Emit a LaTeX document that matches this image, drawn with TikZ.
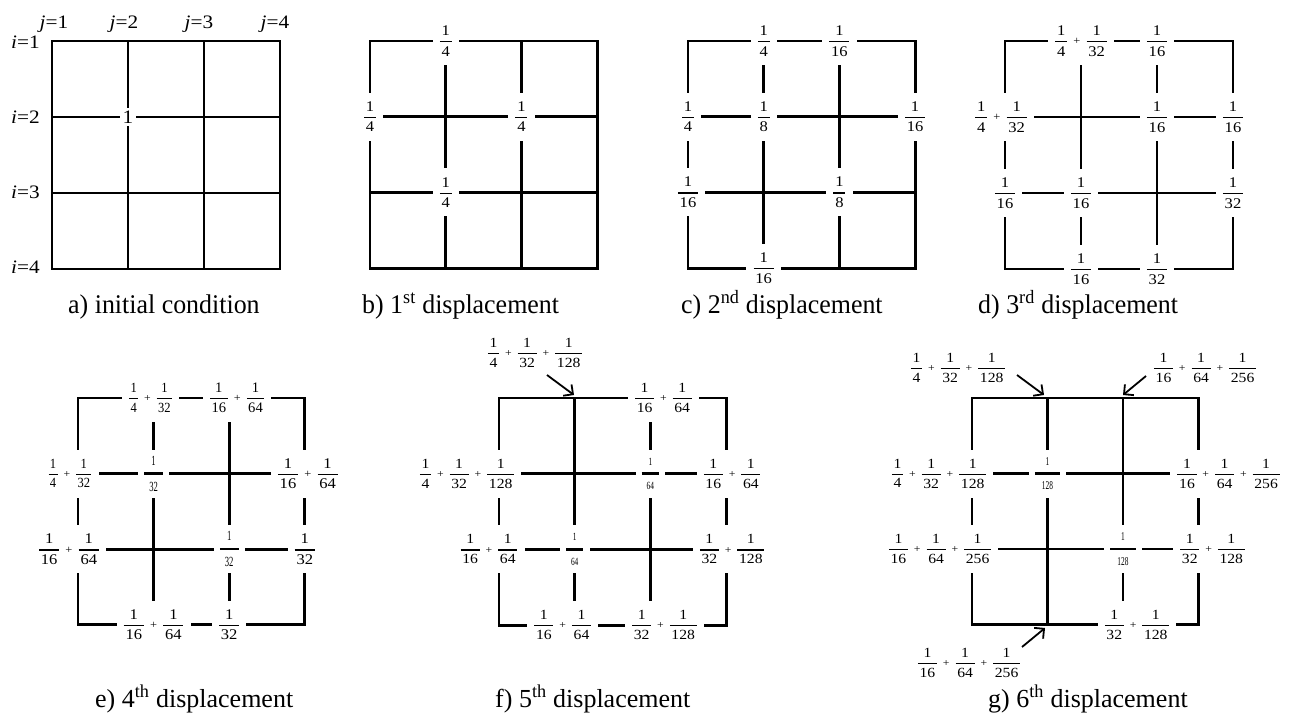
\documentclass[tikz,border=0pt]{standalone}
\usepackage{fontspec}
\setmainfont[FakeStretch=1.12]{Liberation Serif}
\newfontfamily\capfont[FakeStretch=0.96]{Liberation Serif}
\newfontfamily\capfontb{Liberation Serif}
\usepackage{amsmath}
\usepackage{graphicx}
\usetikzlibrary{arrows.meta}

% ordinary fraction
\newcommand\fr[2]{\genfrac{}{}{1.3pt}{0}{\text{#1}}{\text{\kern.12em#2\kern.12em}}}
% condensed fraction
\newcommand\frc[3]{\genfrac{}{}{1.2pt}{0}{\text{\scalebox{#1}[1]{#2}}}{\text{\kern.1em\scalebox{#1}[1]{#3}\kern.1em}}}
% tiny fraction with thick bar
\newcommand\frt[4]{\genfrac{}{}{2.4pt}{0}{\text{\scalebox{#1}[1]{#3}}}{\text{\kern#2\scalebox{#1}[1]{#4}\kern#2}}}
\newcommand\pl{\mathord{\hspace{0.34em}\vcenter{\hbox{\scalebox{0.75}{+}}}\hspace{0.34em}}}

\newcommand\drawgrid[4]{%
  \foreach \rr in {1,2,3,4}{\foreach \cc in {1,2,3,4}{%
    \coordinate (#1-\rr-\cc) at ({#2+(\cc-1)*#4},{#3+(\rr-1)*#4});}}%
  \draw[gridline] (#1-1-1) rectangle (#1-4-4);
  \foreach \kk in {2,3}{\draw[gridline] (#1-\kk-1) -- (#1-\kk-4);
    \draw[gridline] (#1-1-\kk) -- (#1-4-\kk);}%
}

\tikzset{
  gridline/.style={line width=2.8pt},
  lab/.style={fill=white, inner xsep=6pt, inner ysep=0pt, minimum height=48pt,
    font=\fontsize{14.8}{16}\selectfont},
  labs/.style={lab, font=\fontsize{14}{16}\selectfont},
  tinyfr/.style={fill=white, inner xsep=5pt, inner ysep=0pt, minimum height=48pt,
    font=\fontsize{13}{15}\selectfont},
  freelab/.style={inner sep=0pt, font=\fontsize{14}{16}\selectfont},
  onelab/.style={fill=white, inner sep=2.5pt, font=\fontsize{19}{22}\selectfont},
  idx/.style={inner sep=0pt, font=\fontsize{19}{22}\selectfont},
  capt/.style={anchor=base west, inner sep=0pt, font=\capfont\fontsize{27}{30}\selectfont},
  captb/.style={anchor=base west, inner sep=0pt, font=\capfontb\fontsize{26}{30}\selectfont},
  arr/.style={line width=1.8pt, -{Straight Barb[length=7pt,width=14pt,line width=1.8pt]}},
}

\begin{document}
\begin{tikzpicture}[x=1pt,y=-1pt]
\useasboundingbox (0,0) rectangle (1293,713);

% ---------- grids ----------
\drawgrid{a}{52}{41}{76}
\drawgrid{b}{370}{41}{75.7}
\drawgrid{c}{688}{41}{75.7}
\drawgrid{d}{1005}{41}{76}
\drawgrid{e}{78}{398}{75.6}
\drawgrid{f}{499}{398}{75.7}
\drawgrid{g}{972}{398}{75.5}

% ---------- a) ----------
\node[idx, anchor=base] (j1) at (54,28) {\textit{j}=1};
\node[idx, anchor=base] (j2) at (124,28) {\textit{j}=2};
\node[idx, anchor=base] (j3) at (199,28) {\textit{j}=3};
\node[idx, anchor=base] (j4) at (275,28) {\textit{j}=4};
\node[idx, anchor=east] (i1) at (40,42) {\textit{i}=1};
\node[idx, anchor=east] (i2) at (40,117) {\textit{i}=2};
\node[idx, anchor=east] (i3) at (40,192) {\textit{i}=3};
\node[idx, anchor=east] (i4) at (40,267) {\textit{i}=4};
\node[onelab] (a22) at (a-2-2) {1};

% ---------- b) ----------
\node[lab] (b12) at (b-1-2) {$\fr{1}{4}$};
\node[lab] (b21) at (b-2-1) {$\fr{1}{4}$};
\node[lab] (b23) at (b-2-3) {$\fr{1}{4}$};
\node[lab] (b32) at (b-3-2) {$\fr{1}{4}$};

% ---------- c) ----------
\node[lab] (c12) at (c-1-2) {$\fr{1}{4}$};
\node[lab] (c13) at (c-1-3) {$\fr{1}{16}$};
\node[lab] (c21) at (c-2-1) {$\fr{1}{4}$};
\node[lab] (c22) at (c-2-2) {$\fr{1}{8}$};
\node[lab] (c24) at (c-2-4) {$\fr{1}{16}$};
\node[lab] (c31) at (c-3-1) {$\fr{1}{16}$};
\node[lab] (c33) at (c-3-3) {$\fr{1}{8}$};
\node[lab] (c42) at (c-4-2) {$\fr{1}{16}$};

% ---------- d) ----------
\node[lab] (d12) at (d-1-2) {$\fr{1}{4}\pl\fr{1}{32}$};
\node[lab] (d13) at (d-1-3) {$\fr{1}{16}$};
\node[lab] (d21) at ([xshift=-4pt]d-2-1) {$\fr{1}{4}\pl\fr{1}{32}$};
\node[lab] (d23) at (d-2-3) {$\fr{1}{16}$};
\node[lab] (d24) at (d-2-4) {$\fr{1}{16}$};
\node[lab] (d31) at (d-3-1) {$\fr{1}{16}$};
\node[lab] (d32) at (d-3-2) {$\fr{1}{16}$};
\node[lab] (d34) at (d-3-4) {$\fr{1}{32}$};
\node[lab] (d42) at (d-4-2) {$\fr{1}{16}$};
\node[lab] (d43) at (d-4-3) {$\fr{1}{32}$};

% ---------- e) ----------
\node[lab, font=\fontsize{14}{16}\selectfont] (e12) at ([xshift=-3pt]e-1-2) {$\frc{0.8}{1}{4}\pl\frc{0.8}{1}{32}$};
\node[lab, font=\fontsize{14.5}{16}\selectfont] (e13) at ([xshift=8pt]e-1-3) {$\frc{0.9}{1}{16}\pl\frc{0.9}{1}{64}$};
\node[lab, font=\fontsize{14}{16}\selectfont] (e21) at ([xshift=-8pt]e-2-1) {$\frc{0.8}{1}{4}\pl\frc{0.8}{1}{32}$};
\node[tinyfr, font=\fontsize{14}{16}\selectfont] (e22) at (e-2-2) {$\frt{0.55}{5pt}{1}{32}$};
\node[lab] (e24) at ([xshift=3pt]e-2-4) {$\fr{1}{16}\pl\fr{1}{64}$};
\node[lab] (e31) at ([xshift=-9pt]e-3-1) {$\fr{1}{16}\pl\fr{1}{64}$};
\node[tinyfr, font=\fontsize{14}{16}\selectfont] (e33) at (e-3-3) {$\frt{0.55}{5pt}{1}{32}$};
\node[lab] (e34) at (e-3-4) {$\fr{1}{32}$};
\node[lab] (e42) at (e-4-2) {$\fr{1}{16}\pl\fr{1}{64}$};
\node[lab] (e43) at (e-4-3) {$\fr{1}{32}$};

% ---------- f) ----------
\node[freelab] (ftop) at (535,353) {$\fr{1}{4}\pl\fr{1}{32}\pl\fr{1}{128}$};
\node[labs] (f13) at ([xshift=13pt]f-1-3) {$\fr{1}{16}\pl\fr{1}{64}$};
\node[labs] (f21) at ([xshift=-32pt]f-2-1) {$\fr{1}{4}\pl\fr{1}{32}\pl\fr{1}{128}$};
\node[tinyfr, font=\fontsize{11}{13}\selectfont] (f23) at (f-2-3) {$\frt{0.6}{5pt}{1}{64}$};
\node[labs] (f24) at ([xshift=6pt]f-2-4) {$\fr{1}{16}\pl\fr{1}{64}$};
\node[labs] (f31) at ([xshift=-10pt]f-3-1) {$\fr{1}{16}\pl\fr{1}{64}$};
\node[tinyfr, font=\fontsize{11}{13}\selectfont] (f32) at (f-3-2) {$\frt{0.6}{5pt}{1}{64}$};
\node[labs] (f34) at ([xshift=6pt]f-3-4) {$\fr{1}{32}\pl\fr{1}{128}$};
\node[labs] (f42) at ([xshift=-12pt]f-4-2) {$\fr{1}{16}\pl\fr{1}{64}$};
\node[labs] (f43) at ([xshift=14pt]f-4-3) {$\fr{1}{32}\pl\fr{1}{128}$};
\coordinate (fas) at (547,375);
\coordinate (fae) at (574,395);

% ---------- g) ----------
\node[freelab] (gtl) at (958,368) {$\fr{1}{4}\pl\fr{1}{32}\pl\fr{1}{128}$};
\node[freelab] (gtr) at (1205,368) {$\fr{1}{16}\pl\fr{1}{64}\pl\fr{1}{256}$};
\node[freelab] (gbl) at (969,663) {$\fr{1}{16}\pl\fr{1}{64}\pl\fr{1}{256}$};
\node[labs] (g21) at ([xshift=-33pt]g-2-1) {$\fr{1}{4}\pl\fr{1}{32}\pl\fr{1}{128}$};
\node[tinyfr, font=\fontsize{12}{14}\selectfont] (g22) at (g-2-2) {$\frt{0.55}{7pt}{1}{128}$};
\node[labs] (g24) at ([xshift=30pt]g-2-4) {$\fr{1}{16}\pl\fr{1}{64}\pl\fr{1}{256}$};
\node[labs] (g31) at ([xshift=-32pt]g-3-1) {$\fr{1}{16}\pl\fr{1}{64}\pl\fr{1}{256}$};
\node[tinyfr, font=\fontsize{12}{14}\selectfont] (g33) at (g-3-3) {$\frt{0.55}{7pt}{1}{128}$};
\node[labs] (g34) at ([xshift=14pt]g-3-4) {$\fr{1}{32}\pl\fr{1}{128}$};
\node[labs] (g43) at ([xshift=14pt]g-4-3) {$\fr{1}{32}\pl\fr{1}{128}$};
\coordinate (gtls) at (1017,375);
\coordinate (gtle) at (1044,395);
\coordinate (gtrs) at (1146,376);
\coordinate (gtre) at (1123,395);
\coordinate (gbls) at (1022,647);
\coordinate (gble) at (1045,628);

% ---------- arrows ----------
\draw[arr] (fas) -- (fae);
\draw[arr] (gtls) -- (gtle);
\draw[arr] (gtrs) -- (gtre);
\draw[arr] (gbls) -- (gble);

% ---------- captions ----------
\node[capt] (capa) at (68,313) {a) initial condition};
\node[capt] (capb) at (362,313) {b) 1\textsuperscript{st} displacement};
\node[capt] (capc) at (681,313) {c) 2\textsuperscript{nd} displacement};
\node[capt] (capd) at (978,313) {d) 3\textsuperscript{rd} displacement};
\node[captb] (cape) at (95,707) {e) 4\textsuperscript{th} displacement};
\node[captb] (capf) at (495,707) {f) 5\textsuperscript{th} displacement};
\node[captb] (capg) at (988,707) {g) 6\textsuperscript{th} displacement};
\end{tikzpicture}
\end{document}
